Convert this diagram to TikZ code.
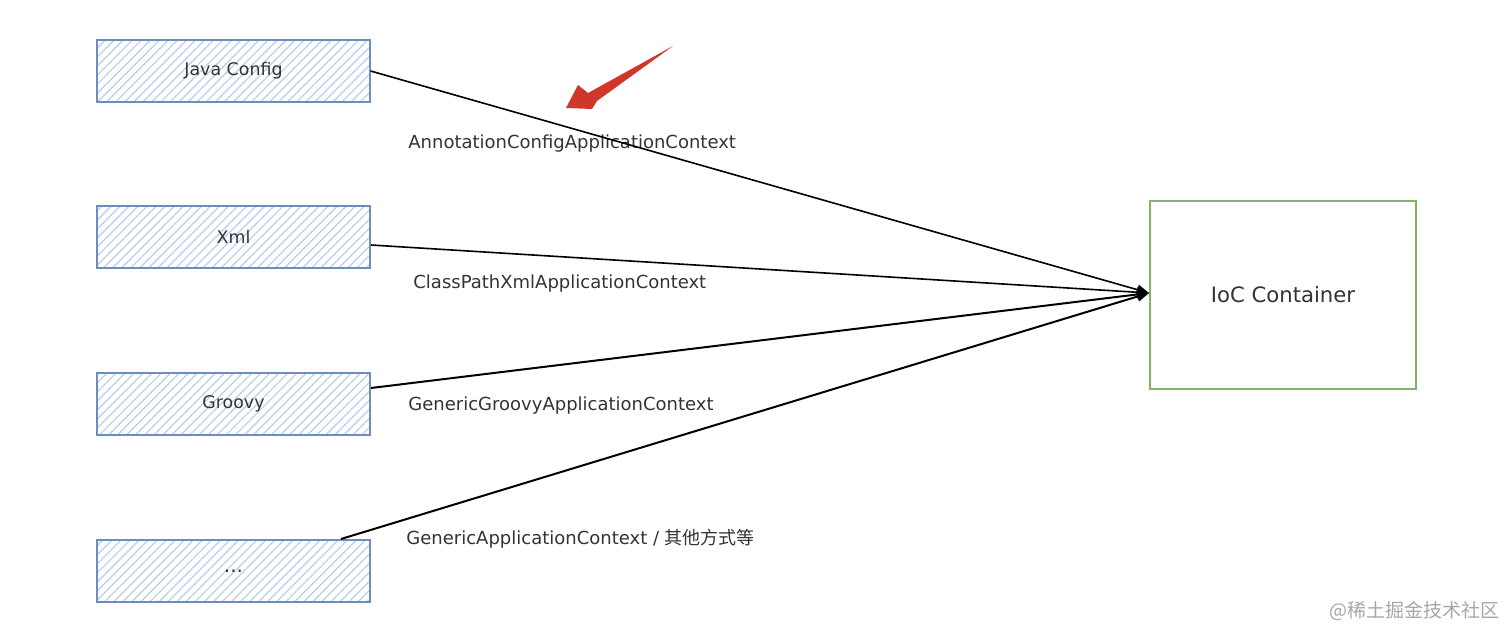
\documentclass[tikz,border=0pt]{standalone}
\usepackage{fontspec}
\setmainfont{DejaVu Sans}
\newfontfamily\cjk{Noto Sans CJK SC}
\usetikzlibrary{arrows.meta,positioning,patterns.meta}
\definecolor{cbox}{HTML}{6C8EBF}
\definecolor{chatch}{HTML}{B9CCEC}
\definecolor{cioc}{HTML}{82B366}
\definecolor{cred}{HTML}{D0372A}
\colorlet{ctext}{black!80}
\tikzset{
  srcbox/.style={draw=cbox, line width=1pt, minimum width=136.5pt, minimum height=31pt,
    pattern={Lines[angle=45,distance=3.2pt,line width=0.6pt]}, pattern color=chatch,
    font=\fontsize{8.7}{10}\selectfont, text=ctext},
  ctxlabel/.style={anchor=west, inner sep=0pt, font=\fontsize{9}{11}\selectfont, text=ctext},
  feed/.style={line width=0.8pt, -{Triangle[length=6pt,width=5pt]}}
}
\begin{document}
\begin{tikzpicture}[x=0.5pt, y=-0.5pt]
\useasboundingbox (0,0) rectangle (1512,643);
\node[srcbox] (java) at (233.5,71) {Java Config};
\node[srcbox] (xml) at (233.5,237) {Xml};
\node[srcbox] (groovy) at (233.5,404) {Groovy};
\node[srcbox, font=\fontsize{10}{12}\selectfont] (dots) at (233.5,571) {...};
\node[draw=cioc, line width=1pt, minimum width=133pt, minimum height=94pt,
  font=\fontsize{10.6}{12}\selectfont, text=ctext] (ioc) at (1283,295) {IoC Container};
% labels
\node[ctxlabel] (lblann) at (408,144) {AnnotationConfigApplicationContext};
\node[ctxlabel] (lblxml) at (413,284) {ClassPathXmlApplicationContext};
\node[ctxlabel] (lblgroovy) at (408,406) {GenericGroovyApplicationContext};
\node[ctxlabel] (lblgen) at (406,539) {GenericApplicationContext / {\cjk 其他方式等}};
% connectors
\draw[feed] (java.east) -- ([yshift=1pt]ioc.west);
\draw[feed] ([yshift=-4pt]xml.east) -- ([yshift=1pt]ioc.west);
\draw[feed, line width=1pt] ([yshift=8pt]groovy.east) -- ([yshift=1pt]ioc.west);
\draw[feed, line width=1pt] ([xshift=-15pt]dots.north east) -- ([yshift=1pt]ioc.west);
% red pointer
\fill[cred] (566,108) -- (578,85) -- (588,93) -- (673,46) -- (597,101) -- (592,109) -- cycle;
\node[font=\cjk\fontsize{9.5}{11}\selectfont, text=black!35, anchor=east, inner sep=0pt] (mark) at (1500,611) {@稀土掘金技术社区};
\end{tikzpicture}
\end{document}
